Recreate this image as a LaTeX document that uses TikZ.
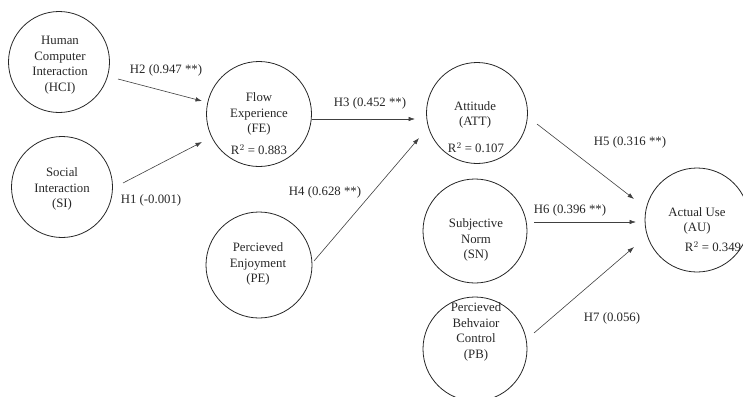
\documentclass[tikz,border=0pt]{standalone}
\usepackage{fontspec}
\setmainfont{Liberation Serif}
\usetikzlibrary{arrows.meta}
\begin{document}
\begin{tikzpicture}[x=1pt,y=-1pt,
  construct/.style={draw=black!85,line width=0.8pt,circle,inner sep=0pt,minimum size=#1},
  txt/.style={align=center,font=\fontsize{12.8}{15.5}\selectfont,text=black!85,inner sep=0pt},
  lbl/.style={font=\fontsize{12.8}{15.5}\selectfont,text=black!85,inner sep=0pt},
  path/.style={draw=black!75,line width=0.6pt,-{Latex[length=6.5pt,width=4.5pt]}}]
\clip (0,0) rectangle (743,396);
\useasboundingbox (0,0) rectangle (743,396);
% circles
\node[construct=101pt] (hci) at (59,62) {};
\node[construct=101pt] (si) at (62,187) {};
\node[construct=105pt] (fe) at (259,114) {};
\node[construct=106pt] (pe) at (259,265) {};
\node[construct=101pt] (att) at (477,113) {};
\node[construct=104pt] (sn) at (475,231) {};
\node[construct=104pt] (pb) at (475,349) {};
\node[construct=104pt] (au) at (697,220) {};
% texts
\node[txt] (hcit) at (60,65) {Human\\Computer\\Interaction\\(HCI)};
\node[txt] (sit) at (62,189) {Social\\Interaction\\(SI)};
\node[txt] (fet) at (259,114) {Flow\\Experience\\(FE)};
\node[txt] (fer) at (259,150) {R$^{2}$ = 0.883};
\node[txt] (pet) at (258,264) {Percieved\\Enjoyment\\(PE)};
\node[txt] (attt) at (475,115) {Attitude\\(ATT)};
\node[txt] (attr) at (476,148) {R$^{2}$ = 0.107};
\node[txt] (snt) at (476,240) {Subjective\\Norm\\(SN)};
\node[txt] (pbt) at (476,332) {Percieved\\Behvaior\\Control\\(PB)};
\node[txt] (aut) at (697,221) {Actual Use\\(AU)};
\node[txt] (aur) at (713,247) {R$^{2}$ = 0.349};
% connector endpoints
\coordinate (h2s) at (118,79);  \coordinate (h2e) at (202,101);
\coordinate (h1s) at (123,183); \coordinate (h1e) at (202,142);
\coordinate (h3s) at (312,119); \coordinate (h3e) at (415,119);
\coordinate (h4s) at (314,261); \coordinate (h4e) at (419,138);
\coordinate (h5s) at (537,124); \coordinate (h5e) at (634,199);
\coordinate (h6s) at (534,222); \coordinate (h6e) at (636,222);
\coordinate (h7s) at (534,333); \coordinate (h7e) at (634,247);
\draw[path] (h2s) -- (h2e);
\draw[path] (h1s) -- (h1e);
\draw[path] (h3s) -- (h3e);
\draw[path] (h4s) -- (h4e);
\draw[path] (h5s) -- (h5e);
\draw[path] (h6s) -- (h6e);
\draw[path] (h7s) -- (h7e);
% labels
\node[lbl] (l2) at (166,70) {H2 (0.947 **)};
\node[lbl] (l1) at (151,200) {H1 (-0.001)};
\node[lbl] (l3) at (370,103) {H3 (0.452 **)};
\node[lbl] (l4) at (325,192) {H4 (0.628 **)};
\node[lbl] (l5) at (630,142) {H5 (0.316 **)};
\node[lbl] (l6) at (570,210) {H6 (0.396 **)};
\node[lbl] (l7) at (612,318) {H7 (0.056)};
\end{tikzpicture}
\end{document}
